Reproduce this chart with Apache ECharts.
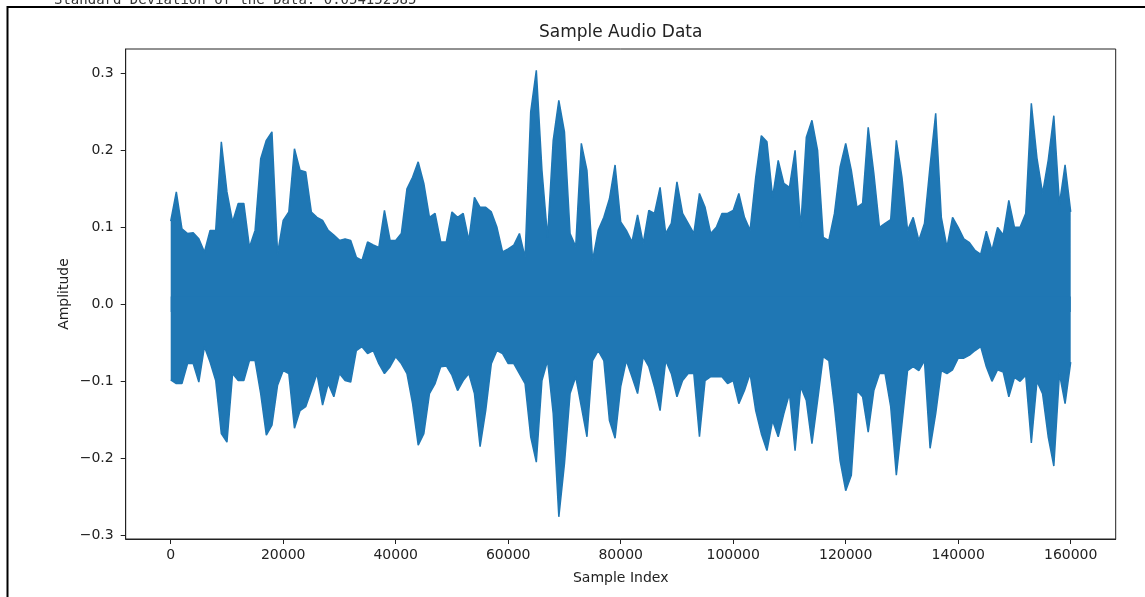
<!DOCTYPE html>
<html>
<head>
<meta charset="utf-8" />
<title>Sample Audio Data</title>
<script src="https://cdn.jsdelivr.net/npm/echarts@6/dist/echarts.min.js"></script>
<style>
  body { margin: 0; background: #fff; }
  #main { width: 1145px; height: 597px; }
</style>
</head>
<body>
<div id="main"></div>
<script type="text/javascript">
// waveform envelope: max / min amplitude in each 1000-sample bin
var binSize = 1000;
var upperEnv = [
  0.108, 0.146, 0.098, 0.092, 0.093, 0.085, 0.068, 0.096, 0.096, 0.211,
  0.146, 0.107, 0.131, 0.131, 0.074, 0.096, 0.189, 0.213, 0.224, 0.066,
  0.109, 0.12, 0.202, 0.174, 0.172, 0.12, 0.113, 0.109, 0.096, 0.09,
  0.083, 0.085, 0.083, 0.061, 0.057, 0.081, 0.077, 0.074, 0.122, 0.083,
  0.083, 0.092, 0.15, 0.165, 0.185, 0.157, 0.113, 0.118, 0.081, 0.081,
  0.12, 0.113, 0.118, 0.083, 0.139, 0.126, 0.126, 0.12, 0.1, 0.068,
  0.072, 0.077, 0.092, 0.061, 0.25, 0.304, 0.174, 0.087, 0.213, 0.265,
  0.224, 0.092, 0.075, 0.209, 0.174, 0.057, 0.096, 0.113, 0.137, 0.181,
  0.107, 0.096, 0.081, 0.116, 0.079, 0.122, 0.118, 0.152, 0.092, 0.105,
  0.159, 0.118, 0.105, 0.092, 0.144, 0.126, 0.092, 0.1, 0.118, 0.118,
  0.122, 0.144, 0.113, 0.096, 0.165, 0.219, 0.211, 0.139, 0.187, 0.157,
  0.152, 0.2, 0.1, 0.217, 0.239, 0.2, 0.087, 0.083, 0.118, 0.178,
  0.209, 0.174, 0.126, 0.131, 0.23, 0.17, 0.1, 0.105, 0.11, 0.213,
  0.165, 0.096, 0.113, 0.083, 0.105, 0.18, 0.248, 0.113, 0.074, 0.113,
  0.1, 0.085, 0.08, 0.07, 0.065, 0.095, 0.07, 0.1, 0.09, 0.135,
  0.1, 0.1, 0.118, 0.261, 0.19, 0.144, 0.187, 0.245, 0.13, 0.181,
  0.12
];
var lowerEnv = [
  -0.098, -0.103, -0.103, -0.077, -0.077, -0.101, -0.055, -0.075, -0.099, -0.168,
  -0.179, -0.09, -0.099, -0.099, -0.073, -0.073, -0.116, -0.17, -0.157, -0.105,
  -0.086, -0.09, -0.161, -0.138, -0.133, -0.112, -0.09, -0.131, -0.103, -0.12,
  -0.09, -0.099, -0.101, -0.06, -0.055, -0.064, -0.06, -0.077, -0.09, -0.081,
  -0.068, -0.077, -0.09, -0.129, -0.183, -0.168, -0.116, -0.103, -0.081, -0.08,
  -0.092, -0.112, -0.099, -0.09, -0.116, -0.185, -0.138, -0.077, -0.06, -0.064,
  -0.077, -0.077, -0.09, -0.103, -0.172, -0.205, -0.099, -0.073, -0.142, -0.276,
  -0.207, -0.116, -0.094, -0.133, -0.172, -0.073, -0.06, -0.073, -0.151, -0.174,
  -0.107, -0.073, -0.094, -0.116, -0.068, -0.081, -0.107, -0.138, -0.073, -0.09,
  -0.12, -0.099, -0.09, -0.09, -0.172, -0.099, -0.094, -0.094, -0.094, -0.103,
  -0.099, -0.129, -0.112, -0.09, -0.138, -0.168, -0.19, -0.151, -0.172, -0.142,
  -0.116, -0.19, -0.107, -0.125, -0.181, -0.125, -0.068, -0.073, -0.133, -0.203,
  -0.242, -0.222, -0.112, -0.12, -0.166, -0.112, -0.09, -0.09, -0.133, -0.222,
  -0.155, -0.086, -0.081, -0.086, -0.073, -0.187, -0.142, -0.086, -0.09, -0.085,
  -0.07, -0.07, -0.066, -0.06, -0.055, -0.081, -0.1, -0.085, -0.088, -0.12,
  -0.095, -0.1, -0.092, -0.18, -0.1, -0.116, -0.172, -0.21, -0.09, -0.129,
  -0.075
];
var xTicks = [0, 20000, 40000, 60000, 80000, 100000, 120000, 140000, 160000];
var yTicks = [-0.3, -0.2, -0.1, 0, 0.1, 0.2, 0.3];

var lineColor = "#1f77b4";
var inkColor = "#222";

function toPairs(arr) {
  return arr.map(function (v, i) { return [i * binSize, v]; });
}

var chart = echarts.init(document.getElementById("main"), null, { renderer: "canvas" });

// each half is filled towards (a little past) zero so the two fills overlap without a seam
function envSeries(name, arr, origin) {
  return {
    name: name,
    type: "line",
    data: toPairs(arr),
    symbol: "none",
    lineStyle: { color: lineColor, width: 1.5 },
    areaStyle: { color: lineColor, opacity: 1, origin: origin },
    itemStyle: { color: lineColor },
    silent: true
  };
}

var option = {
  animation: false,
  backgroundColor: "#fff",
  grid: {
    left: 125.7, right: 29.3, top: 49, bottom: 58,
    outerBoundsMode: "none",
    show: true, borderColor: inkColor, borderWidth: 1, backgroundColor: "transparent"
  },
  xAxis: {
    type: "value",
    min: -8000,
    max: 168000,
    axisLine: { show: true, onZero: false, lineStyle: { color: inkColor, width: 1 } },
    axisTick: { show: true, length: 5, customValues: xTicks, lineStyle: { color: inkColor } },
    axisLabel: {
      customValues: xTicks, margin: 9, color: inkColor,
      fontFamily: "DejaVu Sans", fontSize: 14,
      formatter: function (v) { return String(v); }
    },
    splitLine: { show: false }
  },
  yAxis: {
    type: "value",
    min: -0.3048,
    max: 0.3316,
    axisLine: { show: true, onZero: false, lineStyle: { color: inkColor, width: 1 } },
    axisTick: { show: true, length: 5, customValues: yTicks, lineStyle: { color: inkColor } },
    axisLabel: {
      customValues: yTicks, margin: 12, color: inkColor,
      fontFamily: "DejaVu Sans", fontSize: 14,
      formatter: function (v) { return (v < 0 ? "\u2212" : "") + Math.abs(v).toFixed(1); }
    },
    splitLine: { show: false }
  },
  graphic: [
    {
      type: "polyline", silent: true,
      shape: { points: [[7.5, 597], [7.5, 7], [1145, 7]] },
      style: { stroke: "#000", lineWidth: 2, fill: null }
    },
    {
      type: "text", silent: true, x: 54, y: 0,
      style: {
        text: "Standard Deviation of the Data: 0.054152985",
        fontFamily: "DejaVu Sans Mono", fontSize: 14, fill: "#333",
        align: "left", verticalAlign: "middle"
      }
    },
    {
      type: "text", silent: true, x: 620.7, y: 33,
      style: {
        text: "Sample Audio Data", fontFamily: "DejaVu Sans", fontSize: 17,
        fill: inkColor, align: "center", verticalAlign: "middle"
      }
    },
    {
      type: "text", silent: true, x: 620.7, y: 578,
      style: {
        text: "Sample Index", fontFamily: "DejaVu Sans", fontSize: 14,
        fill: inkColor, align: "center", verticalAlign: "middle"
      }
    },
    {
      type: "text", silent: true, x: 64.5, y: 294, rotation: Math.PI / 2,
      style: {
        text: "Amplitude", fontFamily: "DejaVu Sans", fontSize: 14,
        fill: inkColor, align: "center", verticalAlign: "middle"
      }
    }
  ],
  series: [
    envSeries("upper", upperEnv, -0.01),
    envSeries("lower", lowerEnv, 0.01)
  ]
};

chart.setOption(option);
</script>
</body>
</html>
